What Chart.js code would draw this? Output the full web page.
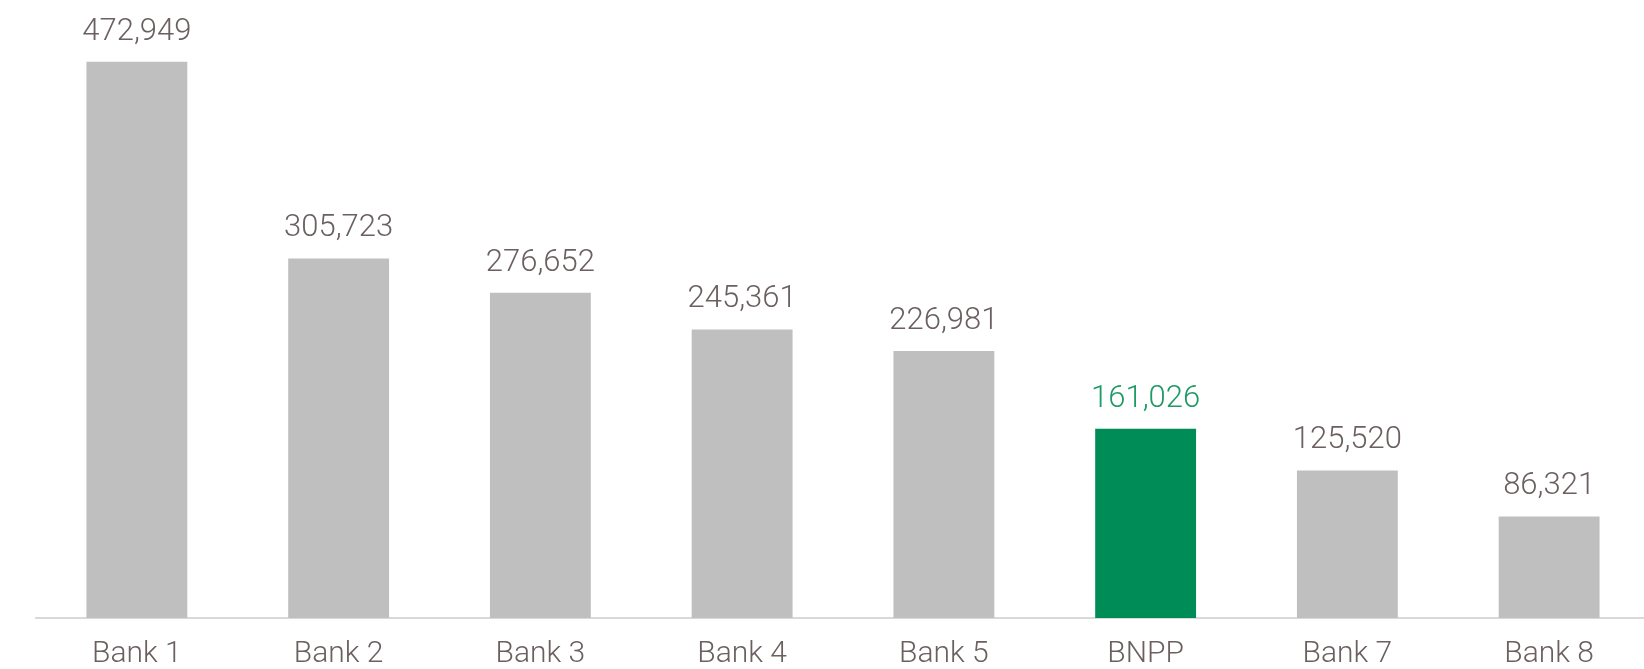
<!DOCTYPE html>
<html>
<head>
<meta charset="utf-8">
<script src="https://cdn.jsdelivr.net/npm/chart.js@4/dist/chart.umd.min.js"></script>
<style>
    html, body {margin: 0; padding: 0; background: #fff; overflow: hidden;}
    #wrap {position: relative; width: 1650px; height: 690px;}
</style>
</head>
<body>
<div id="wrap"><canvas id="chart"></canvas></div>
<script>
const labels = ["Bank 1", "Bank 2", "Bank 3", "Bank 4", "Bank 5", "BNPP", "Bank 7", "Bank 8"];
const values = [472949, 305723, 276652, 245361, 226981, 161026, 125520, 86321];
const highlight = "BNPP";

const grey = "#bfbfbf";
const green = "#008c57";
const textGrey = "#6b5f60";
const textGreen = "#1f9a66";

let valueLabels = {
    id: "valueLabels",
    afterDatasetsDraw: (chart) => {
        const {ctx} = chart;
        const meta = chart.getDatasetMeta(0);
        ctx.save();
        ctx.font = "300 31px Roboto";
        ctx.textAlign = "center";
        ctx.textBaseline = "alphabetic";
        meta.data.forEach((bar, i) => {
            ctx.fillStyle = labels[i] === highlight ? textGreen : textGrey;
            ctx.fillText(values[i].toLocaleString("en-US"), bar.x, bar.y - 22);
        });
        ctx.restore();
    }
}

new Chart(document.getElementById("chart"), {
    type: "bar",
    data: {
        labels: labels,
        datasets: [{
            data: values,
            backgroundColor: labels.map(l => l === highlight ? green : grey),
            barPercentage: 0.5,
            categoryPercentage: 1
        }]
    },
    options: {
        responsive: true,
        maintainAspectRatio: false,
        animation: false,
        layout: {padding: {left: 36, right: 0, top: 30, bottom: 0}},
        plugins: {legend: {display: false}, tooltip: {enabled: false}},
        scales: {
            x: {
                grid: {display: false, drawTicks: false},
                border: {display: true, color: "#dcd8d8", width: 2},
                ticks: {color: textGrey, font: {family: "Roboto", weight: 300, size: 30}, padding: 18}
            },
            y: {
                display: false,
                min: 0,
                max: 500000
            }
        }
    },
    plugins: [valueLabels]
});
</script>
</body>
</html>
